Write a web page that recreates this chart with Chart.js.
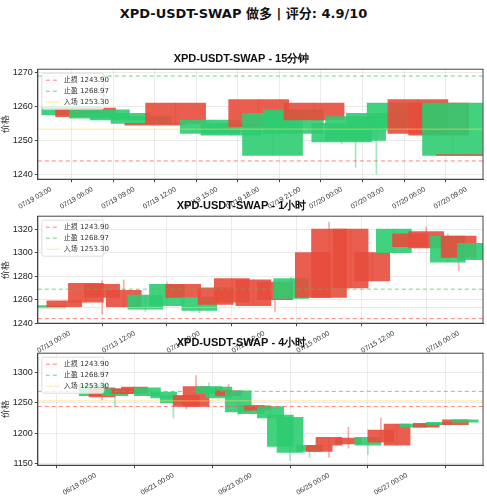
<!DOCTYPE html>
<html><head><meta charset="utf-8">
<script src="https://cdn.jsdelivr.net/npm/chart.js@4.4.1/dist/chart.umd.min.js"></script>
<style>
body{margin:0;background:#fff;width:487px;height:500px;position:relative;font-family:"DejaVu Sans","Noto Sans CJK SC",sans-serif}
#title{position:absolute;top:3px;left:0;width:487px;text-align:center;font-weight:bold;font-size:13px;color:#111}
.p{position:absolute;left:0;width:487px}
</style></head><body>
<div id="title">XPD-USDT-SWAP 做多 | 评分: 4.9/10</div>
<div class="p" style="top:50px;height:164px"><canvas id="c1"></canvas></div>
<div class="p" style="top:197px;height:161px"><canvas id="c2"></canvas></div>
<div class="p" style="top:334px;height:166px"><canvas id="c3"></canvas></div>
<script>
const stopLoss = 1243.90, takeProfit = 1268.97, entry = 1253.30;

// 15m panel: hours since 07/19 00:00
const t1 = [4.5,5.5,6.5,8,9.5,10.5,12,14.5,16,18,19,20.5,22,24,25,26.5,28,29.5,31,32,33];
const o1 = [1257.5,1259.5,1256.5,1256,1255,1255,1261,1252,1251.5,1262,1245.5,1252,1261,1249.5,1250,1253,1254,1262,1261,1245.5,1245.8];
const c1 = [1260,1257,1259,1258,1257,1254.5,1255,1256,1255,1254,1258,1259,1256,1255,1257,1258,1261,1252,1251.5,1261,1245.5];
const h1 = [1260,1259.5,1259,1258,1257,1255,1261,1256,1255,1262,1258,1259,1261,1256,1257,1258,1261,1262,1261,1261,1245.8];
const l1 = [1257.5,1257,1256.5,1256,1255,1254.5,1255,1252,1251.5,1254,1245.5,1252,1256,1249,1242,1240,1254,1252,1251.5,1245.5,1245.5];
const yt1 = [1240, 1250, 1260, 1270];

// 1h panel: hours since 07/13 00:00
const t2 = [-4,-1,3,6,10,14,18,21,24,27,30,34,38,41,45,48,52,56,60,63,66,70,72,75];
const o2 = [1253,1259,1274,1273,1268,1252,1255,1273,1251,1270,1278,1277,1275,1261,1300,1320,1320,1300,1300,1316,1318,1292,1314,1294];
const c2 = [1255,1254,1258,1262,1254,1264,1273,1262,1262,1256,1258,1255,1260,1278,1262,1262,1270,1276,1320,1305,1304,1314,1296,1308];
const h2 = [1255,1259,1274,1276,1277,1264,1275,1273,1262,1270,1278,1277,1275,1279,1300,1326,1320,1300,1320,1316,1322,1316,1314,1308];
const l2 = [1253,1254,1258,1248,1254,1250,1255,1262,1249,1256,1258,1255,1250,1261,1262,1262,1270,1276,1300,1305,1304,1292,1285,1294];
const yt2 = [1240, 1260, 1280, 1300, 1320];

// 4h panel: hours since 06/19 00:00
const t3 = [-2,4,12,18,24,32,42,48,56,62,70,76,82,88,96,100,108,114,120,132,138,144,156,168,176,186,196,204,212,222,228];
const o3 = [1262,1275,1262,1273,1276,1262,1258,1250,1262,1277,1265,1258,1270,1235,1232,1245,1225,1178,1168,1170,1180,1193,1192,1180,1205,1215,1210,1216,1214,1222,1218];
const c3 = [1280,1260,1273,1265,1266,1275,1268,1262,1244,1244,1277,1276,1262,1270,1246,1238,1244,1230,1226,1180,1170,1180,1182,1193,1185,1180,1215,1210,1218,1214,1222];
const h3 = [1282,1275,1273,1273,1276,1275,1268,1262,1262,1295,1283,1276,1280,1270,1246,1245,1244,1230,1226,1180,1180,1193,1210,1193,1225,1215,1215,1216,1218,1222,1222];
const l3 = [1262,1255,1243,1265,1266,1262,1258,1225,1240,1244,1265,1258,1262,1230,1232,1226,1225,1178,1155,1160,1170,1160,1175,1165,1185,1180,1210,1210,1214,1214,1218];
const yt3 = [1150, 1200, 1250, 1300];

const GREEN = 'rgba(46,204,113,0.9)', RED = 'rgba(231,76,60,0.9)';
const pad = n => String(n).padStart(2, '0');

function fmt(base, h) {
  const d = new Date(Date.UTC(base[0], base[1] - 1, base[2]) + h * 3600e3);
  return pad(d.getUTCMonth() + 1) + '/' + pad(d.getUTCDate()) + ' ' + pad(d.getUTCHours()) + ':00';
}

// frame around plot + legend box inside upper left
const frame = {
  id: 'frame',
  afterDraw(ch) {
    const a = ch.chartArea, x = ch.ctx;
    x.save(); x.strokeStyle = '#444'; x.lineWidth = 1;
    x.strokeRect(a.left, a.top, a.right - a.left, a.bottom - a.top);
    const items = ch.data.datasets.slice(2);
    const bx = a.left + 4, by = a.top + 4, bw = 62, bh = 36;
    x.fillStyle = 'rgba(255,255,255,0.8)'; x.strokeStyle = '#ddd';
    x.beginPath(); x.roundRect(bx, by, bw, bh, 2); x.fill(); x.stroke();
    x.font = '7px "DejaVu Sans","Noto Sans CJK SC"'; x.textBaseline = 'middle';
    items.forEach((d, i) => {
      const yy = by + 7 + i * 11;
      x.strokeStyle = d.borderColor; x.lineWidth = 1; x.setLineDash(d.borderDash);
      x.beginPath(); x.moveTo(bx + 4, yy); x.lineTo(bx + 18, yy); x.stroke(); x.setLineDash([]);
      x.fillStyle = '#333'; x.fillText(d.label, bx + 22, yy);
    });
    x.restore();
  }
};

function make(id, title, t, o, c, h, l, base, xmin, xmax, ticks, ymin, ymax, yticks, thick) {
  const col = o.map((v, i) => c[i] >= v ? GREEN : RED);
  const wcol = o.map((v, i) => c[i] >= v ? 'rgba(46,204,113,0.45)' : 'rgba(231,76,60,0.45)');
  const hl = (val, color, dash, name) => ({
    type: 'line', label: name + ' ' + val.toFixed(2), data: [{x: xmin, y: val}, {x: xmax, y: val}],
    borderColor: color, borderWidth: 1, borderDash: dash, pointRadius: 0, order: 0
  });
  new Chart(document.getElementById(id), {
    type: 'bar',
    data: {
      datasets: [
        {label: 'wick', data: t.map((v, i) => ({x: v, y: [l[i], h[i]]})), backgroundColor: wcol, barThickness: 1, grouped: false, order: 3},
        {label: 'body', data: t.map((v, i) => ({x: v, y: [o[i], c[i]]})), backgroundColor: col, barThickness: thick, grouped: false, order: 2},
        hl(stopLoss, 'rgba(255,90,90,0.75)', [4, 3], '止损'),
        hl(takeProfit, 'rgba(60,200,80,0.75)', [4, 3], '止盈'),
        hl(entry, 'rgba(255,215,100,0.6)', [], '入场')
      ]
    },
    options: {
      responsive: true, maintainAspectRatio: false, animation: false,
      layout: {padding: {right: 4}},
      plugins: {
        title: {display: true, text: title, font: {size: 11, weight: 'bold'}, color: '#111', padding: {top: 2, bottom: 4}},
        legend: {display: false},
        tooltip: {enabled: false}
      },
      scales: {
        x: {
          type: 'linear', min: xmin, max: xmax, offset: false,
          afterBuildTicks: ax => { ax.ticks = ticks.map(v => ({value: v})); },
          ticks: {callback: v => fmt(base, v), maxRotation: 30, minRotation: 30, font: {size: 7}, color: '#333'},
          grid: {color: 'rgba(0,0,0,0.08)', tickColor: '#444', tickLength: 3}, border: {color: '#444'}
        },
        y: {
          min: ymin, max: ymax,
          afterBuildTicks: ax => { ax.ticks = yticks.map(v => ({value: v})); },
          ticks: {callback: v => String(v), font: {size: 9}, color: '#222', padding: 2},
          title: {display: true, text: '价格', font: {size: 9}, color: '#222', padding: 0},
          grid: {color: 'rgba(0,0,0,0.08)', tickColor: '#444', tickLength: 3}, border: {color: '#444'}
        }
      }
    },
    plugins: [frame]
  });
}

make('c1', 'XPD-USDT-SWAP - 15分钟', t1, o1, c1, h1, l1, [2024, 7, 19], 2.05, 34.2,
  [3, 6, 9, 12, 15, 18, 21, 24, 27, 30, 33], 1238.5, 1271, yt1, 60);
make('c2', 'XPD-USDT-SWAP - 1小时', t2, o2, c2, h2, l2, [2024, 7, 13], -5.9, 76.5,
  [0, 12, 24, 36, 48, 60, 72], 1240, 1331, yt2, 35);
make('c3', 'XPD-USDT-SWAP - 4小时', t3, o3, c3, h3, l3, [2024, 6, 19], -35.6, 239,
  [0, 48, 96, 144, 192], 1147, 1332, yt3, 26);
</script>
</body></html>
